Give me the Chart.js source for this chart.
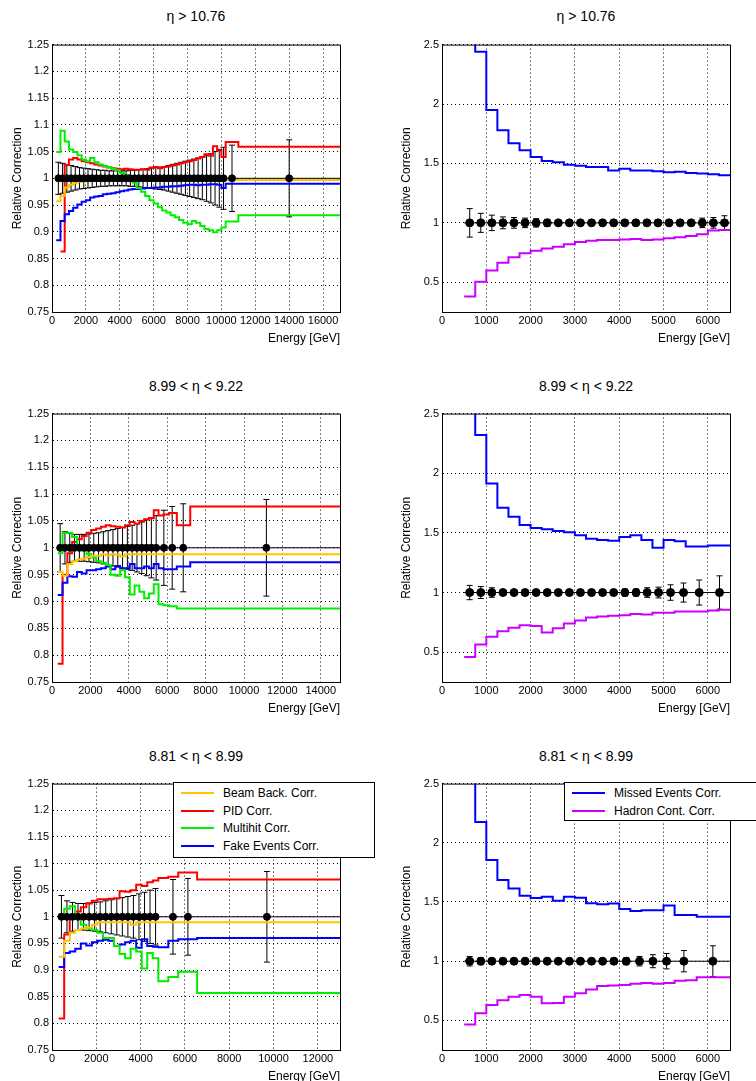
<!DOCTYPE html>
<html>
<head>
<meta charset="utf-8">
<script src="https://cdn.jsdelivr.net/npm/chart.js@4.4.0/dist/chart.umd.min.js"></script>
<style>
  body { margin:0; width:756px; height:1081px; overflow:hidden; background:#fff; font-family:"Liberation Sans", Arial, sans-serif; }
  .panel { position:absolute; }
  .title { position:absolute; width:300px; text-align:center; font-size:14px; color:#000; }
  .legend { position:absolute; background:#fff; border:1px solid #000; font-size:12px; }
  .legend .row { position:absolute; height:14px; line-height:14px; white-space:nowrap; }
  .legend .sw { position:absolute; height:2px; top:6px; }
</style>
</head>
<body>

<div class="title" style="left:46px;top:8px">η &gt; 10.76</div>
<div class="title" style="left:436px;top:8px">η &gt; 10.76</div>
<div class="title" style="left:46px;top:378px">8.99 &lt; η &lt; 9.22</div>
<div class="title" style="left:436px;top:378px">8.99 &lt; η &lt; 9.22</div>
<div class="title" style="left:46px;top:748px">8.81 &lt; η &lt; 8.99</div>
<div class="title" style="left:436px;top:748px">8.81 &lt; η &lt; 8.99</div>

<div class="panel" style="left:0;top:35px;width:378px;height:311px"><canvas id="cTL"></canvas></div>
<div class="panel" style="left:378px;top:35px;width:378px;height:311px"><canvas id="cTR"></canvas></div>
<div class="panel" style="left:0;top:404px;width:378px;height:312px"><canvas id="cML"></canvas></div>
<div class="panel" style="left:378px;top:404px;width:378px;height:312px"><canvas id="cMR"></canvas></div>
<div class="panel" style="left:0;top:774px;width:378px;height:310px"><canvas id="cBL"></canvas></div>
<div class="panel" style="left:378px;top:774px;width:378px;height:310px"><canvas id="cBR"></canvas></div>

<div class="legend" id="legL" style="left:173px;top:782px;width:200px;height:74px"></div>
<div class="legend" id="legR" style="left:564px;top:782px;width:200px;height:37px"></div>

<script>
'use strict';

/* ── colours ── */
const ORANGE = '#ffc400', RED = '#ff0000', GREEN = '#00ee00', BLUE = '#0000ff', PURPLE = '#cc00ff';

/* ── y tick labels ── */
const leftYTicks  = [0.75, 0.8, 0.85, 0.9, 0.95, 1, 1.05, 1.1, 1.15, 1.2, 1.25];
const rightYTicks = [0.5, 1, 1.5, 2, 2.5];

/* ── TOP LEFT: eta > 10.76 ── */
const edgesTL  = [250,500,750,1000,1250,1500,1750,2000,2250,2500,2750,3000,3250,3500,3750,4000,4250,4500,4750,5000,
                  5250,5500,5750,6000,6250,6500,6750,7000,7250,7500,7750,8000,8250,8500,8750,9000,9250,9500,9750,10000,10250,11000,17000];
const orangeTL = [0.957,0.967,0.983,0.988,0.991,0.993,0.994,0.995,0.995,0.996,0.996,0.996,0.996,0.996,0.996,0.996,0.996,0.996,0.996,0.996,
                  0.996,0.996,0.996,0.996,0.996,0.996,0.997,0.997,0.997,0.997,0.997,0.997,0.997,0.997,0.997,0.997,0.997,0.997,0.997,0.997,0.997,0.997];
const redTL    = [null,0.863,1.025,1.035,1.038,1.035,1.032,1.030,1.028,1.026,1.024,1.022,1.020,1.019,1.018,1.017,1.018,1.017,1.016,1.016,
                  1.017,1.016,1.020,1.021,1.019,1.021,1.022,1.024,1.026,1.028,1.030,1.032,1.034,1.037,1.040,1.045,1.042,1.060,1.052,1.040,1.068,1.059];
const greenTL  = [1.049,1.089,1.069,1.054,1.049,1.043,1.035,1.032,1.038,1.030,1.026,1.023,1.021,1.018,1.015,1.010,1.006,1.001,0.992,0.982,
                  0.975,0.967,0.959,0.953,0.946,0.940,0.936,0.931,0.927,0.922,0.917,0.914,0.920,0.917,0.911,0.905,0.903,0.899,0.903,0.908,0.919,0.931];
const blueTL   = [0.884,0.920,0.933,0.939,0.945,0.951,0.956,0.959,0.964,0.966,0.967,0.970,0.971,0.972,0.974,0.976,0.977,0.979,0.980,0.980,
                  0.981,0.982,0.982,0.983,0.983,0.984,0.984,0.985,0.985,0.986,0.987,0.988,0.988,0.987,0.988,0.988,0.989,0.989,0.988,0.982,0.990,0.990];
const ptsXTL   = [375,625,875,1125,1375,1625,1875,2125,2375,2625,2875,3125,3375,3625,3875,4125,4375,4625,4875,5125,
                  5375,5625,5875,6125,6375,6625,6875,7125,7375,7625,7875,8125,8375,8625,8875,9125,9375,9625,9875,10125,10625,14000];
const ptsErrTL = [0.030,0.028,0.026,0.024,0.022,0.020,0.019,0.018,0.017,0.016,0.015,0.015,0.014,0.014,0.014,0.014,0.014,0.015,0.015,0.016,
                  0.017,0.018,0.019,0.020,0.021,0.022,0.024,0.026,0.028,0.030,0.032,0.034,0.036,0.038,0.040,0.043,0.046,0.050,0.054,0.058,0.062,0.072];

/* ── MIDDLE LEFT: 8.99 < eta < 9.22 ── */
const edgesML  = [300,550,800,1050,1300,1550,1800,2050,2300,2550,2800,3050,3300,3550,3800,4050,4300,4550,4800,5050,5300,5550,5800,6100,6500,7200,15000];
const orangeML = [0.955,0.948,0.970,0.975,0.978,0.980,0.983,0.985,0.985,0.988,0.986,0.988,0.987,0.984,0.988,0.988,0.988,0.988,0.988,0.988,0.988,0.988,0.988,0.988,0.988,0.988];
const redML    = [0.784,0.950,0.990,1.011,1.016,1.022,1.028,1.033,1.036,1.039,1.042,1.040,1.039,1.038,1.042,1.048,1.045,1.050,1.053,1.055,1.070,1.060,1.062,1.065,1.042,1.077];
const greenML  = [0.990,1.028,1.028,1.020,1.000,0.995,0.988,0.982,0.975,0.972,0.968,0.950,0.948,0.958,0.945,0.913,0.930,0.918,0.906,0.915,0.932,0.895,0.893,0.891,0.887,0.887];
const blueML   = [0.912,0.935,0.947,0.946,0.955,0.952,0.958,0.958,0.960,0.962,0.965,0.960,0.966,0.962,0.962,0.970,0.962,0.962,0.965,0.962,0.970,0.962,0.960,0.960,0.965,0.973];
const ptsXML   = [425,675,925,1175,1425,1675,1925,2175,2425,2675,2925,3175,3425,3675,3925,4175,4425,4675,4925,5175,5425,5826,6260,6835,11165];
const ptsErrML = [0.045,0.030,0.027,0.025,0.025,0.025,0.026,0.027,0.028,0.030,0.032,0.034,0.036,0.038,0.040,0.042,0.045,0.048,0.052,0.056,0.060,0.070,0.077,0.082,0.090];

/* ── BOTTOM LEFT: 8.81 < eta < 8.99 ── */
const edgesBL  = [300,550,800,1050,1300,1550,1800,2050,2300,2550,2800,3050,3300,3550,3800,4050,4300,4550,4800,5250,5700,6550,13000];
const orangeBL = [0.925,0.955,0.970,0.975,0.978,0.980,0.985,0.990,0.990,0.990,0.990,0.990,0.990,0.985,0.990,0.990,0.990,0.990,0.990,0.990,0.990,0.990];
const redBL    = [0.809,0.967,1.000,1.010,1.018,1.025,1.030,1.033,1.033,1.034,1.035,1.048,1.047,1.050,1.060,1.058,1.065,1.068,1.073,1.075,1.083,1.070];
const greenBL  = [1.005,1.015,1.020,1.003,0.985,0.978,0.975,0.970,0.960,0.960,0.945,0.930,0.922,0.940,0.935,0.903,0.932,0.922,0.879,0.887,0.897,0.857];
const blueBL   = [0.906,0.932,0.935,0.940,0.950,0.946,0.952,0.955,0.957,0.955,0.945,0.948,0.952,0.955,0.942,0.958,0.945,0.944,0.943,0.955,0.958,0.960];
const ptsXBL   = [425,675,925,1175,1425,1675,1925,2175,2425,2675,2925,3175,3425,3675,3925,4175,4425,4675,5460,6135,9700];
const ptsErrBL = [0.040,0.030,0.027,0.025,0.025,0.026,0.027,0.028,0.030,0.032,0.034,0.036,0.038,0.040,0.043,0.046,0.050,0.053,0.070,0.072,0.085];

/* ── RIGHT PANELS (missed events / hadron contamination) ── */
const edgesR   = [500,750,1000,1250,1500,1750,2000,2250,2500,2750,3000,3250,3500,3750,4000,4250,4500,4750,5000,5250,5500,5750,6000,6250,6500];

const blueTR   = [3.2,2.44,1.95,1.78,1.67,1.61,1.555,1.52,1.51,1.49,1.48,1.47,1.47,1.44,1.455,1.44,1.44,1.435,1.425,1.43,1.42,1.415,1.41,1.40];
const purpleTR = [0.38,0.505,0.60,0.665,0.71,0.745,0.765,0.785,0.80,0.82,0.84,0.85,0.855,0.855,0.86,0.865,0.855,0.86,0.87,0.88,0.89,0.905,0.935,0.94];
const ptsXTR   = [625,875,1125,1375,1625,1875,2125,2375,2625,2875,3125,3375,3625,3875,4125,4375,4625,4875,5125,5375,5625,5875,6125,6375];
const ptsErrTR = [0.12,0.08,0.065,0.05,0.045,0.04,0.035,0.03,0.02,0.015,0.01,0.01,0.01,0.01,0.01,0.01,0.01,0.01,0.01,0.015,0.02,0.04,0.045,0.06];

const blueMR   = [3.2,2.32,1.915,1.71,1.635,1.567,1.54,1.53,1.515,1.505,1.48,1.45,1.44,1.435,1.465,1.48,1.44,1.375,1.44,1.43,1.385,1.385,1.395,1.395];
const purpleMR = [0.46,0.565,0.63,0.675,0.705,0.725,0.72,0.665,0.70,0.74,0.765,0.79,0.80,0.805,0.81,0.82,0.815,0.83,0.83,0.84,0.84,0.84,0.85,0.855];
const ptsXMR   = [625,875,1125,1375,1625,1875,2125,2375,2625,2875,3125,3375,3625,3875,4128,4380,4630,4887,5158,5451,5805,6263];
const ptsErrMR = [0.06,0.05,0.04,0.02,0.01,0.01,0.01,0.01,0.01,0.01,0.01,0.01,0.01,0.01,0.03,0.03,0.04,0.045,0.065,0.08,0.105,0.14];

const blueBR   = [3.2,2.175,1.855,1.685,1.615,1.553,1.533,1.545,1.51,1.545,1.535,1.49,1.48,1.487,1.44,1.425,1.43,1.43,1.47,1.39,1.39,1.375,1.375,1.375];
const purpleBR = [0.465,0.56,0.63,0.67,0.70,0.715,0.70,0.645,0.648,0.70,0.73,0.76,0.79,0.795,0.80,0.81,0.815,0.81,0.815,0.835,0.84,0.865,0.865,0.865];
const ptsXBR   = [625,875,1125,1375,1625,1875,2125,2375,2625,2875,3125,3375,3625,3880,4158,4458,4759,5068,5459,6113];
const ptsErrBR = [0.04,0.03,0.02,0.01,0.01,0.01,0.01,0.01,0.01,0.01,0.01,0.01,0.01,0.025,0.03,0.04,0.055,0.065,0.09,0.13];

/* histogram -> step points (left edge, value) + closing edge */
function histPoints(edges, vals) {
  const pts = vals.map((v, i) => ({ x: edges[i], y: v }));
  pts.push({ x: edges[edges.length - 1], y: vals[vals.length - 1] });
  return pts;
}

function hist(edges, vals, color) {
  return {
    type: 'line', data: histPoints(edges, vals), borderColor: color, borderWidth: 2,
    stepped: true, pointRadius: 0, fill: false, order: 2,
  };
}

/* error bars + y=1 line under the markers, frame on top */
const errorBars = {
  id: 'errorBars',
  beforeDatasetsDraw(chart, args, opts) {
    const { ctx, scales: { x, y } } = chart;
    ctx.save();
    ctx.strokeStyle = '#000';
    ctx.lineWidth = 1;
    ctx.beginPath();
    ctx.moveTo(x.getPixelForValue(opts.lineFrom), y.getPixelForValue(1));
    ctx.lineTo(x.getPixelForValue(x.max), y.getPixelForValue(1));
    ctx.stroke();
    opts.xs.forEach((xv, i) => {
      const px = x.getPixelForValue(xv);
      const top = y.getPixelForValue(1 + opts.errs[i]), bot = y.getPixelForValue(1 - opts.errs[i]);
      ctx.beginPath();
      ctx.moveTo(px, top); ctx.lineTo(px, bot);
      ctx.moveTo(px - 3, top); ctx.lineTo(px + 3, top);
      ctx.moveTo(px - 3, bot); ctx.lineTo(px + 3, bot);
      ctx.stroke();
    });
    ctx.restore();
  },
  afterDraw(chart) {
    const { ctx, chartArea: a } = chart;
    ctx.save();
    ctx.strokeStyle = '#000';
    ctx.lineWidth = 1;
    ctx.strokeRect(a.left + 0.5, a.top + 0.5, a.right - a.left, a.bottom - a.top);
    ctx.restore();
  },
};

function makePanel(id, o) {
  const datasets = o.hists.map(h => hist(h[0], h[1], h[2]));
  datasets.push({
    type: 'scatter', data: o.ptsX.map(xv => ({ x: xv, y: 1 })),
    backgroundColor: '#000', borderColor: '#000', pointRadius: o.radius, order: 1,
  });
  new Chart(document.getElementById(id), {
    type: 'line',
    data: { datasets },
    plugins: [errorBars],
    options: {
      responsive: true, maintainAspectRatio: false, animation: false,
      layout: { padding: { top: 8, right: o.padRight, left: 0, bottom: 0 } },
      plugins: {
        legend: { display: false }, tooltip: { enabled: false },
        errorBars: { xs: o.ptsX, errs: o.ptsErr, lineFrom: o.lineFrom },
      },
      scales: {
        x: {
          type: 'linear', min: 0, max: o.xMax,
          afterBuildTicks: s => { s.ticks = o.xTicks.map(v => ({ value: v })); },
          ticks: { color: '#000', font: { size: 11 }, padding: 2, maxRotation: 0, autoSkip: false, callback: v => String(v) },
          grid: { color: '#000', lineWidth: 1, drawTicks: false },
          border: { display: true, color: '#000', dash: [1, 3] },
          title: { display: true, text: 'Energy [GeV]', align: 'end', color: '#000', font: { size: 12 }, padding: { top: 2, bottom: 0 } },
          afterFit: s => { s.height = 34; },
        },
        y: {
          type: 'linear', min: o.yMin, max: o.yMax,
          afterBuildTicks: s => { s.ticks = o.yTicks.map(v => ({ value: v })); },
          ticks: { color: '#000', font: { size: 11 }, padding: 3, autoSkip: false, callback: v => String(+v.toFixed(2)) },
          grid: { color: '#000', lineWidth: 1, drawTicks: false },
          border: { display: true, color: '#000', dash: [1, 3] },
          title: { display: true, text: 'Relative Correction', color: '#000', font: { size: 12 }, padding: { top: o.titlePad, bottom: 0 } },
          afterFit: s => { s.width = o.yWidth; },
        },
      },
    },
  });
}

const leftX17 = [0,2000,4000,6000,8000,10000,12000,14000,16000];
const leftX15 = [0,2000,4000,6000,8000,10000,12000,14000];
const leftX13 = [0,2000,4000,6000,8000,10000,12000];
const rightX  = [0,1000,2000,3000,4000,5000,6000];

const leftCommon  = { yMin: 0.75, yMax: 1.25, yTicks: leftYTicks, yWidth: 52, padRight: 38, radius: 3.5, titlePad: 10 };
const rightCommon = { yMin: 0.25, yMax: 2.5, yTicks: rightYTicks, yWidth: 64, padRight: 26, radius: 4, titlePad: 21,
                      xMax: 6500, xTicks: rightX, lineFrom: 500 };

makePanel('cTL', Object.assign({}, leftCommon, {
  xMax: 17000, xTicks: leftX17, ptsX: ptsXTL, ptsErr: ptsErrTL, lineFrom: 250,
  hists: [[edgesTL, orangeTL, ORANGE], [edgesTL, greenTL, GREEN], [edgesTL, blueTL, BLUE], [edgesTL, redTL, RED]],
}));
makePanel('cML', Object.assign({}, leftCommon, {
  xMax: 15000, xTicks: leftX15, ptsX: ptsXML, ptsErr: ptsErrML, lineFrom: 300,
  hists: [[edgesML, orangeML, ORANGE], [edgesML, greenML, GREEN], [edgesML, blueML, BLUE], [edgesML, redML, RED]],
}));
makePanel('cBL', Object.assign({}, leftCommon, {
  xMax: 13000, xTicks: leftX13, ptsX: ptsXBL, ptsErr: ptsErrBL, lineFrom: 300,
  hists: [[edgesBL, orangeBL, ORANGE], [edgesBL, greenBL, GREEN], [edgesBL, blueBL, BLUE], [edgesBL, redBL, RED]],
}));
makePanel('cTR', Object.assign({}, rightCommon, {
  ptsX: ptsXTR, ptsErr: ptsErrTR, hists: [[edgesR, blueTR, BLUE], [edgesR, purpleTR, PURPLE]],
}));
makePanel('cMR', Object.assign({}, rightCommon, {
  ptsX: ptsXMR, ptsErr: ptsErrMR, hists: [[edgesR, blueMR, BLUE], [edgesR, purpleMR, PURPLE]],
}));
makePanel('cBR', Object.assign({}, rightCommon, {
  ptsX: ptsXBR, ptsErr: ptsErrBR, hists: [[edgesR, blueBR, BLUE], [edgesR, purpleBR, PURPLE]],
}));

/* ── legends ── */
function fillLegend(el, items) {
  items.forEach(([label, color], i) => {
    const row = document.createElement('div');
    row.className = 'row';
    row.style.top = (3 + i * 17.5) + 'px';
    row.style.left = '7px';
    row.innerHTML = `<span class="sw" style="left:0;width:33px;background:${color}"></span><span style="position:absolute;left:42px">${label}</span>`;
    el.appendChild(row);
  });
}
fillLegend(document.getElementById('legL'), [['Beam Back. Corr.', ORANGE], ['PID Corr.', RED], ['Multihit Corr.', GREEN], ['Fake Events Corr.', BLUE]]);
fillLegend(document.getElementById('legR'), [['Missed Events Corr.', BLUE], ['Hadron Cont. Corr.', PURPLE]]);
</script>
</body>
</html>
